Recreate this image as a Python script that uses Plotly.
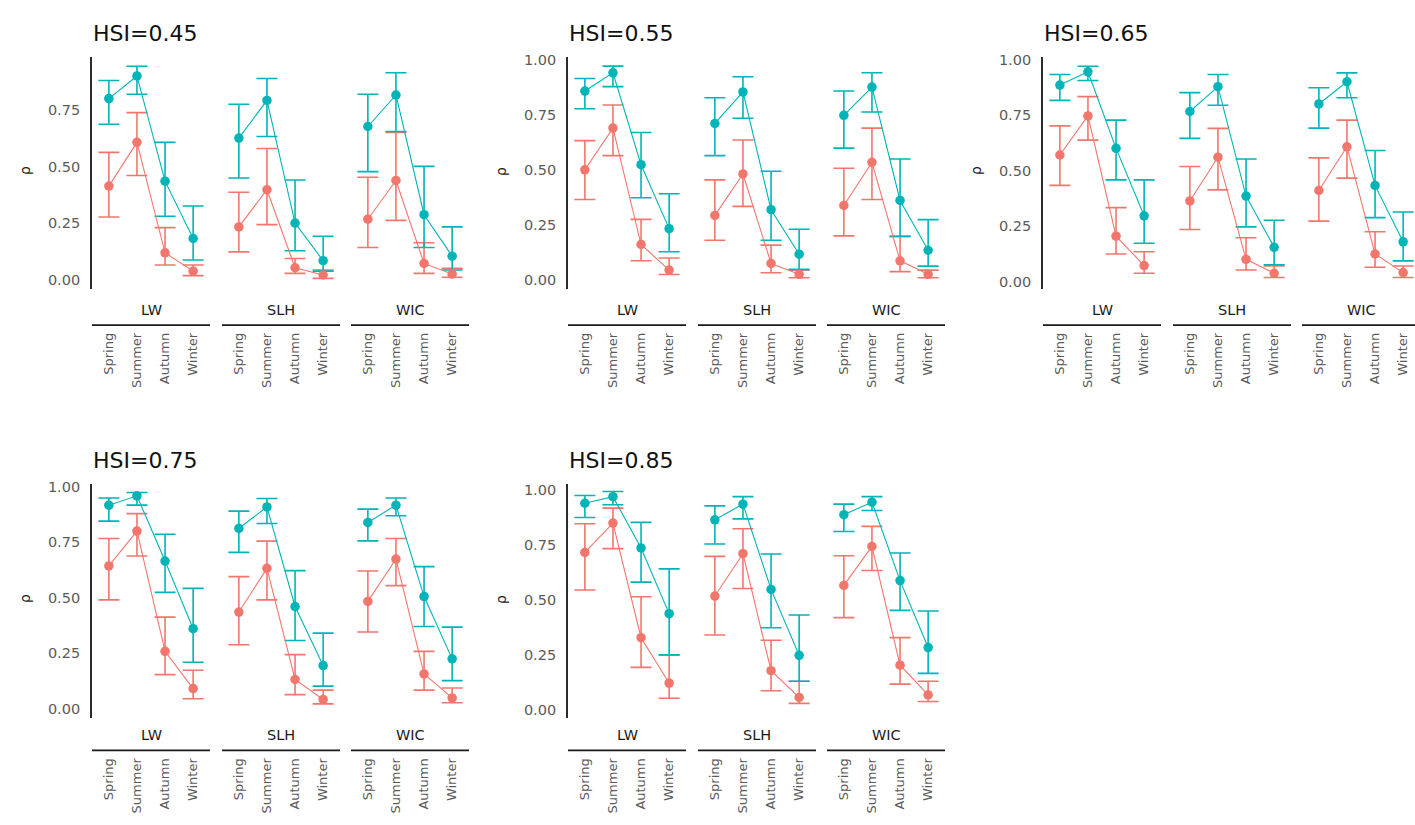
import plotly.graph_objects as go

# ---------------------------------------------------------------- data
seasons = ["Spring", "Summer", "Autumn", "Winter"]
sites = ["LW", "SLH", "WIC"]
hsi_titles = ["HSI=0.45", "HSI=0.55", "HSI=0.65", "HSI=0.75", "HSI=0.85"]

# each list: LW (Spring..Winter), SLH (Spring..Winter), WIC (Spring..Winter)
teal_045 = [0.800, 0.900, 0.436, 0.183, 0.626, 0.792, 0.251, 0.085, 0.677, 0.816, 0.288, 0.105]
teal_045_lo = [0.687, 0.819, 0.281, 0.088, 0.450, 0.633, 0.129, 0.039, 0.478, 0.655, 0.143, 0.044]
teal_045_hi = [0.880, 0.943, 0.607, 0.326, 0.775, 0.889, 0.441, 0.193, 0.819, 0.914, 0.501, 0.234]
red_045 = [0.414, 0.607, 0.120, 0.039, 0.234, 0.398, 0.054, 0.022, 0.268, 0.439, 0.073, 0.026]
red_045_lo = [0.278, 0.461, 0.066, 0.019, 0.124, 0.244, 0.029, 0.007, 0.143, 0.263, 0.029, 0.012]
red_045_hi = [0.563, 0.738, 0.231, 0.066, 0.387, 0.580, 0.095, 0.044, 0.453, 0.651, 0.164, 0.051]

teal_055 = [0.857, 0.940, 0.523, 0.233, 0.710, 0.853, 0.319, 0.117, 0.747, 0.875, 0.361, 0.135]
teal_055_lo = [0.777, 0.877, 0.373, 0.128, 0.564, 0.734, 0.180, 0.048, 0.598, 0.762, 0.198, 0.063]
teal_055_hi = [0.914, 0.970, 0.669, 0.391, 0.827, 0.922, 0.493, 0.230, 0.857, 0.940, 0.549, 0.274]
red_055 = [0.500, 0.689, 0.161, 0.045, 0.293, 0.481, 0.075, 0.026, 0.338, 0.534, 0.087, 0.026]
red_055_lo = [0.365, 0.564, 0.087, 0.025, 0.180, 0.334, 0.033, 0.010, 0.200, 0.365, 0.038, 0.010]
red_055_hi = [0.632, 0.794, 0.275, 0.100, 0.454, 0.635, 0.158, 0.045, 0.507, 0.689, 0.198, 0.045]

teal_065 = [0.885, 0.945, 0.600, 0.296, 0.766, 0.878, 0.385, 0.154, 0.800, 0.900, 0.433, 0.179]
teal_065_lo = [0.816, 0.906, 0.458, 0.172, 0.645, 0.794, 0.246, 0.075, 0.691, 0.828, 0.288, 0.093]
teal_065_hi = [0.933, 0.970, 0.727, 0.458, 0.851, 0.933, 0.552, 0.276, 0.873, 0.940, 0.590, 0.313]
red_065 = [0.570, 0.746, 0.204, 0.072, 0.363, 0.560, 0.100, 0.037, 0.410, 0.607, 0.124, 0.040]
red_065_lo = [0.433, 0.637, 0.124, 0.037, 0.234, 0.413, 0.052, 0.018, 0.272, 0.466, 0.064, 0.018]
red_065_hi = [0.701, 0.833, 0.333, 0.134, 0.518, 0.690, 0.197, 0.070, 0.557, 0.727, 0.224, 0.070]

teal_075 = [0.918, 0.960, 0.666, 0.361, 0.813, 0.910, 0.461, 0.195, 0.840, 0.918, 0.506, 0.225]
teal_075_lo = [0.846, 0.918, 0.525, 0.210, 0.705, 0.835, 0.308, 0.102, 0.757, 0.870, 0.371, 0.127]
teal_075_hi = [0.950, 0.975, 0.787, 0.543, 0.891, 0.948, 0.623, 0.341, 0.900, 0.950, 0.641, 0.368]
red_075 = [0.644, 0.801, 0.259, 0.091, 0.436, 0.633, 0.132, 0.042, 0.484, 0.675, 0.157, 0.049]
red_075_lo = [0.491, 0.689, 0.154, 0.045, 0.289, 0.491, 0.064, 0.022, 0.346, 0.555, 0.084, 0.027]
red_075_hi = [0.768, 0.880, 0.413, 0.174, 0.596, 0.756, 0.244, 0.084, 0.621, 0.768, 0.259, 0.094]

teal_085 = [0.938, 0.968, 0.735, 0.437, 0.863, 0.934, 0.547, 0.248, 0.886, 0.943, 0.587, 0.283]
teal_085_lo = [0.873, 0.931, 0.580, 0.250, 0.753, 0.867, 0.373, 0.130, 0.810, 0.905, 0.452, 0.166]
teal_085_hi = [0.973, 0.991, 0.851, 0.640, 0.926, 0.968, 0.708, 0.431, 0.934, 0.968, 0.712, 0.449]
red_085 = [0.715, 0.848, 0.328, 0.122, 0.517, 0.709, 0.178, 0.057, 0.565, 0.742, 0.203, 0.068]
red_085_lo = [0.544, 0.732, 0.193, 0.053, 0.340, 0.551, 0.087, 0.030, 0.419, 0.633, 0.117, 0.038]
red_085_hi = [0.845, 0.916, 0.514, 0.250, 0.697, 0.822, 0.316, 0.130, 0.700, 0.833, 0.328, 0.130]

panels = [
    (teal_045, teal_045_lo, teal_045_hi, red_045, red_045_lo, red_045_hi),
    (teal_055, teal_055_lo, teal_055_hi, red_055, red_055_lo, red_055_hi),
    (teal_065, teal_065_lo, teal_065_hi, red_065, red_065_lo, red_065_hi),
    (teal_075, teal_075_lo, teal_075_hi, red_075, red_075_lo, red_075_hi),
    (teal_085, teal_085_lo, teal_085_hi, red_085, red_085_lo, red_085_hi),
]

# ---------------------------------------------------------------- style / layout
W, H = 1415, 825
RED = "#F3766C"
TEAL = "#00B4B8"
FONT = "DejaVu Sans, Verdana, sans-serif"
TICK_GREY = "#5a5a5a"

panel_left = [92, 568, 1043, 92, 568]          # px, y-axis line position
row_of_panel = [0, 0, 0, 1, 1]
row_plot = [(52, 286), (482, 717)]             # px top / bottom of plotting area
row_title_y = [29, 458]
row_site_y = [307, 734]
row_rule_y = [322, 750]
row_label_standoff = [40, 37]
group_span = [(0, 118), (130, 248), (259, 377)]
x_range = (-0.6, 3.6)
px_per_unit = (group_span[0][1] - group_span[0][0]) / (x_range[1] - x_range[0])
y_ranges = [(-0.041, 0.985), (-0.042, 1.013), (-0.035, 1.013), (-0.040, 1.013), (-0.035, 1.025)]


def fx(px):
    return px / W


def fy(px):
    return 1 - px / H


fig = go.Figure()
layout = dict(
    width=W, height=H, autosize=False,
    margin=dict(l=0, r=0, t=0, b=0),
    paper_bgcolor="white", plot_bgcolor="white",
    showlegend=False,
    font=dict(family=FONT, color="#333333"),
)
annotations = []
shapes = []

for p, data in enumerate(panels):
    teal, teal_lo, teal_hi, red, red_lo, red_hi = data
    row = row_of_panel[p]
    top, bottom = row_plot[row]
    yname = f"y{p + 1}" if p else "y"
    ykey = f"yaxis{p + 1}" if p else "yaxis"
    first_x = f"x{p * 3 + 1}" if p * 3 else "x"

    tickvals = [0, 0.25, 0.5, 0.75, 1.0]
    tickvals = [t for t in tickvals if y_ranges[p][0] <= t <= y_ranges[p][1]]
    layout[ykey] = dict(
        domain=[fy(bottom), fy(top)], anchor=first_x,
        range=list(y_ranges[p]), tickvals=tickvals, tickformat=".2f",
        showline=True, linecolor="#2b2b2b", linewidth=1.8,
        ticks="", showgrid=False, zeroline=False,
        tickfont=dict(size=14.5, color=TICK_GREY, family=FONT),
        ticklabelstandoff=7,
    )

    for g, site in enumerate(sites):
        k = p * 3 + g + 1
        xname = f"x{k}" if k > 1 else "x"
        xkey = f"xaxis{k}" if k > 1 else "xaxis"
        x0 = panel_left[p] + group_span[g][0]
        x1 = panel_left[p] + group_span[g][1]
        rng = list(x_range)
        if x1 > W:
            rng[1] = x_range[0] + (W - x0) / px_per_unit
            x1 = W
        layout[xkey] = dict(
            domain=[fx(x0), fx(x1)], anchor=yname,
            range=rng, type="linear",
            tickvals=list(range(len(seasons))), ticktext=seasons,
            tickangle=-90, ticks="", showline=False, showgrid=False, zeroline=False,
            tickfont=dict(size=13, color=TICK_GREY, family=FONT),
            ticklabelstandoff=row_label_standoff[row],
        )
        sl = slice(g * 4, g * 4 + 4)
        xs = list(range(len(seasons)))
        series = [
            (RED, red[sl], red_lo[sl], red_hi[sl]),
            (TEAL, teal[sl], teal_lo[sl], teal_hi[sl]),
        ]
        # error bars first, then lines, then points
        for color, m, lo, hi in series:
            fig.add_trace(go.Scatter(
                x=xs, y=m, xaxis=xname, yaxis=yname, mode="markers",
                marker=dict(size=1, opacity=0), hoverinfo="skip",
                error_y=dict(type="data", symmetric=False,
                             array=[h - v for h, v in zip(hi, m)],
                             arrayminus=[v - l for v, l in zip(m, lo)],
                             color=color, thickness=1.6, width=10.5),
            ))
        for color, m, lo, hi in series:
            fig.add_trace(go.Scatter(
                x=xs, y=m, xaxis=xname, yaxis=yname, mode="lines",
                line=dict(color=color, width=1.1), hoverinfo="skip",
            ))
        for color, m, lo, hi in series:
            fig.add_trace(go.Scatter(
                x=xs, y=m, xaxis=xname, yaxis=yname, mode="markers",
                marker=dict(color=color, size=9.5, line=dict(width=0)),
            ))

        # site strip: label over a rule
        annotations.append(dict(
            x=fx(panel_left[p] + (group_span[g][0] + group_span[g][1]) / 2),
            y=fy(row_site_y[row]), xref="paper", yref="paper",
            text=site, showarrow=False, xanchor="center", yanchor="middle",
            font=dict(size=14.5, color="#1a1a1a", family=FONT),
        ))
        shapes.append(dict(
            type="line", xref="paper", yref="paper",
            x0=fx(x0), x1=fx(x1), y0=fy(row_rule_y[row]), y1=fy(row_rule_y[row]),
            line=dict(color="#1a1a1a", width=1.8),
        ))

    # panel title
    annotations.append(dict(
        x=fx(panel_left[p] - 1), y=fy(row_title_y[row]), xref="paper", yref="paper",
        text=hsi_titles[p], showarrow=False, xanchor="left", yanchor="middle",
        font=dict(size=22, color="#111111", family=FONT),
    ))
    # y-axis title
    annotations.append(dict(
        x=fx(panel_left[p] - 67), y=fy((top + bottom) / 2 - 2), xref="paper", yref="paper",
        text="ρ", showarrow=False, textangle=-90, xanchor="center", yanchor="middle",
        font=dict(size=14, color="#1a1a1a", family=FONT),
    ))

layout["annotations"] = annotations
layout["shapes"] = shapes
fig.update_layout(**layout)
fig.write_html("out.html")
